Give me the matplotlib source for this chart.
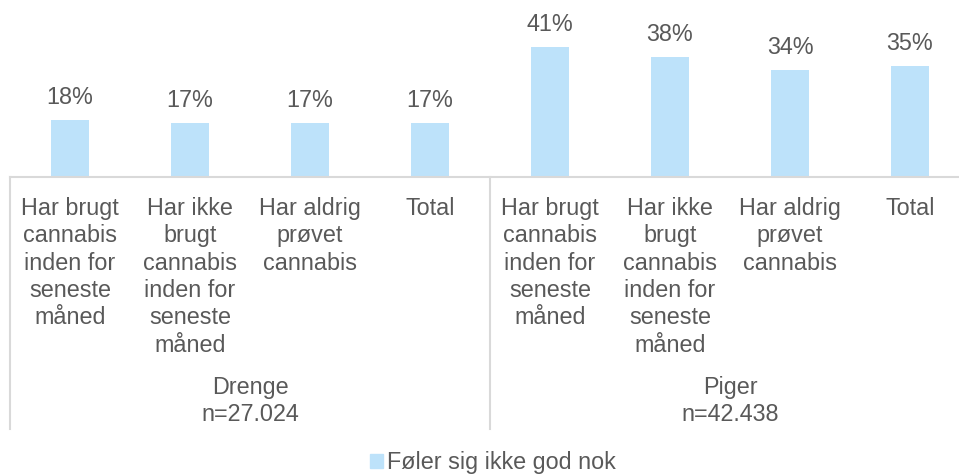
import matplotlib
matplotlib.use("Agg")
import matplotlib.pyplot as plt
from matplotlib.transforms import blended_transform_factory
from matplotlib.patches import Patch

# data
groups = ["Drenge\nn=27.024", "Piger\nn=42.438"]
categories = [
    "Har brugt\ncannabis\ninden for\nseneste\nmåned",
    "Har ikke\nbrugt\ncannabis\ninden for\nseneste\nmåned",
    "Har aldrig\nprøvet\ncannabis",
    "Total",
]
drenge = [18, 17, 17, 17]
piger = [41, 38, 34, 35]
series_name = "Føler sig ikke god nok"

BAR = "#BDE2FA"
TXT = "#595959"
GRID = "#D9D9D9"
W, H = 959, 474

plt.rcParams["font.family"] = ["Liberation Sans", "DejaVu Sans"]
plt.rcParams["font.size"] = 16.8

fig = plt.figure(figsize=(W / 100, H / 100), dpi=100)
ax = fig.add_axes([10 / W, 1 - 177 / H, 949 / W, 177 / H])

values = drenge + piger
xs = list(range(len(values)))
bars = ax.bar(xs, values, width=0.317, color=BAR)
for b, v in zip(bars, values):
    ax.annotate(f"{v}%", (b.get_x() + b.get_width() / 2, b.get_height()),
                xytext=(0, 11.5), textcoords="offset points",
                ha="center", va="baseline", color=TXT)

ax.set_xlim(-0.5, -0.5 + 949 / 120)
ax.set_ylim(0, 56)
ax.set_xticks([])
ax.set_yticks([])
for s in ["top", "right", "left"]:
    ax.spines[s].set_visible(False)
ax.spines["bottom"].set_color(GRID)
ax.spines["bottom"].set_linewidth(1.5)

trans = blended_transform_factory(ax.transData, fig.transFigure)
py = lambda p: 1 - p / H

# category labels under each bar
for i, x in enumerate(xs):
    ax.text(x, py(197), categories[i % len(categories)], transform=trans,
            ha="center", va="top", color=TXT, linespacing=1.24)

# group labels and separators
n = len(categories)
for g, name in enumerate(groups):
    ax.text(g * n + (n - 1) / 2, py(376), name, transform=trans,
            ha="center", va="top", color=TXT, linespacing=1.24)
    ax.plot([g * n - 0.5, g * n - 0.5], [py(177), py(429)], transform=trans,
            color=GRID, lw=1.5, clip_on=False)

fig.legend(handles=[Patch(color=BAR, label=series_name)], loc="center",
           bbox_to_anchor=(493 / W, py(463)), frameon=False,
           handlelength=0.55, handleheight=0.55, handletextpad=0.2,
           borderpad=0, labelcolor=TXT)

plt.savefig("out.png", dpi=100)
